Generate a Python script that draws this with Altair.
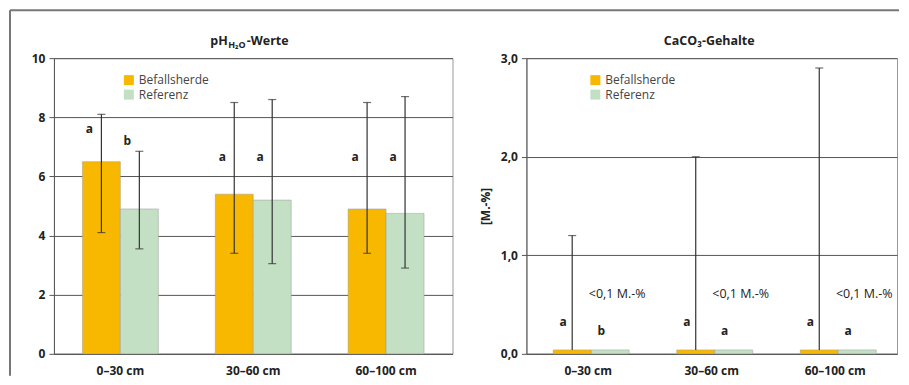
import altair as alt
import pandas as pd

depths = ["0–30 cm", "30–60 cm", "60–100 cm"]
groups = ["Befallsherde", "Referenz"]
colors = ["#F9B800", "#C3E0C4"]

# pH (H2O) values
ph_befall = [6.5, 5.4, 4.9]
ph_befall_lo = [4.1, 3.4, 3.4]
ph_befall_hi = [8.1, 8.5, 8.5]
ph_ref = [4.9, 5.2, 4.75]
ph_ref_lo = [3.55, 3.05, 2.9]
ph_ref_hi = [6.85, 8.6, 8.7]
ph_letters_befall = ["a", "a", "a"]
ph_letters_ref = ["b", "a", "a"]
ph_letter_y_befall = [7.6, 6.65, 6.65]
ph_letter_y_ref = [7.2, 6.65, 6.65]
ph_ticks = [0, 2, 4, 6, 8, 10]

# CaCO3 contents
ca_befall = [0.04, 0.04, 0.04]
ca_ref = [0.04, 0.04, 0.04]
ca_befall_hi = [1.2, 2.0, 2.9]
ca_letters_befall = ["a", "a", "a"]
ca_letters_ref = ["b", "a", "a"]
ca_letter_y_befall = [0.32, 0.32, 0.32]
ca_letter_y_ref = [0.23, 0.23, 0.23]
ca_note = ["<0,1 M.-%", "<0,1 M.-%", "<0,1 M.-%"]
ca_note_y = [0.61, 0.61, 0.61]
ca_ticks = [0, 1, 2, 3]

left_title_parts = ["pH", "H₂O", "-Werte"]
right_title = "CaCO₃-Gehalte"
right_ytitle = "[M.-%]"

FONT = "Open Sans"
DARK = "#333333"

ph_df = pd.DataFrame({
    "depth": depths * 2,
    "group": [groups[0]] * 3 + [groups[1]] * 3,
    "value": ph_befall + ph_ref,
    "lo": ph_befall_lo + ph_ref_lo,
    "hi": ph_befall_hi + ph_ref_hi,
    "letter": ph_letters_befall + ph_letters_ref,
    "ly": ph_letter_y_befall + ph_letter_y_ref,
})

ca_df = pd.DataFrame({
    "depth": depths * 2,
    "group": [groups[0]] * 3 + [groups[1]] * 3,
    "value": ca_befall + ca_ref,
    "letter": ca_letters_befall + ca_letters_ref,
    "ly": ca_letter_y_befall + ca_letter_y_ref,
})
ca_err = pd.DataFrame({
    "depth": depths,
    "group": [groups[0]] * 3,
    "lo": ca_befall,
    "hi": ca_befall_hi,
})
ca_notes = pd.DataFrame({
    "depth": depths,
    "group": [groups[1]] * 3,
    "note": ca_note,
    "ny": ca_note_y,
})


def xenc(pi, po):
    return alt.X("depth:N", sort=depths,
                 scale=alt.Scale(paddingInner=pi, paddingOuter=po),
                 axis=alt.Axis(title=None, labelAngle=0, ticks=False,
                               labelFontWeight="bold", labelFontSize=12,
                               labelColor="#222", labelPadding=12,
                               domainColor="#555"))


xoff = alt.XOffset("group:N", sort=groups,
                   scale=alt.Scale(paddingInner=0, paddingOuter=0))


def yenc(field, domain, ticks, fmt_expr=None, title=None):
    ax = dict(values=ticks, grid=True, gridColor="#555", gridWidth=1,
              tickSize=5, tickColor="#555", labelFontWeight="bold",
              labelFontSize=12, labelColor="#222", labelPadding=4,
              domainColor="#555", title=title)
    if fmt_expr:
        ax["labelExpr"] = fmt_expr
    if title:
        ax.update(titleFontSize=12, titleFontWeight="bold", titleColor="#222",
                  titlePadding=8)
    return alt.Y(field, scale=alt.Scale(domain=domain, nice=False),
                 axis=alt.Axis(**ax))


def legend(x, y):
    return alt.Legend(orient="none", legendX=x, legendY=y, title=None,
                      symbolType="square", symbolSize=100,
                      symbolStrokeWidth=0, labelFontSize=12,
                      labelColor="#444", labelFont=FONT, rowPadding=2.5,
                      labelOffset=4)


color_scale = alt.Scale(domain=groups, range=colors)

# ---------- left panel ----------
LW, LH = 399, 296
xl = xenc(0.4286, 0.2143)
yl = lambda f: yenc(f, [0, 10], ph_ticks)

bars_l = alt.Chart(ph_df).mark_bar(stroke="#999", strokeWidth=0.5).encode(
    x=xl, xOffset=xoff, y=yl("value:Q"),
    color=alt.Color("group:N", scale=color_scale, legend=legend(69, 16)))
err_l = alt.Chart(ph_df).mark_rule(color=DARK, strokeWidth=1.2).encode(
    x=xl, xOffset=xoff, y=yl("lo:Q"), y2="hi:Q")
cap_hi_l = alt.Chart(ph_df).mark_tick(color=DARK, size=8, thickness=1.2).encode(
    x=xl, xOffset=xoff, y=yl("hi:Q"))
cap_lo_l = alt.Chart(ph_df).mark_tick(color=DARK, size=8, thickness=1.2).encode(
    x=xl, xOffset=xoff, y=yl("lo:Q"))
let_l = alt.Chart(ph_df).mark_text(font=FONT, fontSize=12, fontWeight="bold",
                                   color="#222", dx=-12).encode(
    x=xl, xOffset=xoff, y=yl("ly:Q"), text="letter:N")

t1 = alt.Chart(pd.DataFrame({"t": [left_title_parts[0]]})).mark_text(
    font=FONT, fontSize=12.5, fontWeight="bold", color="#222", align="right",
    baseline="alphabetic").encode(x=alt.value(174), y=alt.value(-13), text="t:N")
t2 = alt.Chart(pd.DataFrame({"t": [left_title_parts[1]]})).mark_text(
    font=FONT, fontSize=9, fontWeight="bold", color="#222", align="left",
    baseline="alphabetic").encode(x=alt.value(174.5), y=alt.value(-10), text="t:N")
t3 = alt.Chart(pd.DataFrame({"t": [left_title_parts[2]]})).mark_text(
    font=FONT, fontSize=12.5, fontWeight="bold", color="#222", align="left",
    baseline="alphabetic").encode(x=alt.value(193), y=alt.value(-13), text="t:N")

one = pd.DataFrame({"k": [0]})
frame_left = alt.Chart(one).mark_rule(color="#777", strokeWidth=2).encode(
    x=alt.value(-44), y=alt.value(-48), y2=alt.value(318))
frame_top = alt.Chart(one).mark_rule(color="#777", strokeWidth=2).encode(
    x=alt.value(-44), x2=alt.value(846), y=alt.value(-48))

left = alt.layer(bars_l, err_l, cap_hi_l, cap_lo_l, let_l, t1, t2, t3,
                 frame_left, frame_top).properties(width=LW, height=LH)

# ---------- right panel ----------
RW, RH = 371, 296
xr = xenc(0.434, 0.217)
fmt = "replace(format(datum.value, '.1f'), '.', ',')"
yr = lambda f, title=None: yenc(f, [0, 3], ca_ticks, fmt, title)

bars_r = alt.Chart(ca_df).mark_bar(stroke="#999", strokeWidth=0.5).encode(
    x=xr, xOffset=xoff, y=yr("value:Q", right_ytitle),
    color=alt.Color("group:N", scale=color_scale, legend=legend(63, 16)))
err_r = alt.Chart(ca_err).mark_rule(color=DARK, strokeWidth=1.2).encode(
    x=xr, xOffset=xoff, y=yr("lo:Q", right_ytitle), y2="hi:Q")
cap_r = alt.Chart(ca_err).mark_tick(color=DARK, size=8, thickness=1.2).encode(
    x=xr, xOffset=xoff, y=yr("hi:Q", right_ytitle))
let_r = alt.Chart(ca_df).mark_text(font=FONT, fontSize=12, fontWeight="bold",
                                   color="#222", dx=-9).encode(
    x=xr, xOffset=xoff, y=yr("ly:Q", right_ytitle), text="letter:N")
note_r = alt.Chart(ca_notes).mark_text(font=FONT, fontSize=12.5,
                                       color="#222", dx=7).encode(
    x=xr, xOffset=xoff, y=yr("ny:Q", right_ytitle), text="note:N")
t_r = alt.Chart(pd.DataFrame({"t": [right_title]})).mark_text(
    font=FONT, fontSize=12.5, fontWeight="bold", color="#222", align="center",
    baseline="alphabetic").encode(x=alt.value(183), y=alt.value(-13), text="t:N")

right = alt.layer(bars_r, err_r, cap_r, let_r, note_r,
                  t_r).properties(width=RW, height=RH)

chart = alt.hconcat(left, right, spacing=74, bounds="flush").resolve_scale(
    color="independent").properties(
    padding={"left": 0, "top": 0, "right": 0, "bottom": 0}
).configure(font=FONT).configure_view(stroke="#999", strokeWidth=1)

chart.save("out.html", embed_options={"renderer": "svg", "actions": False})
